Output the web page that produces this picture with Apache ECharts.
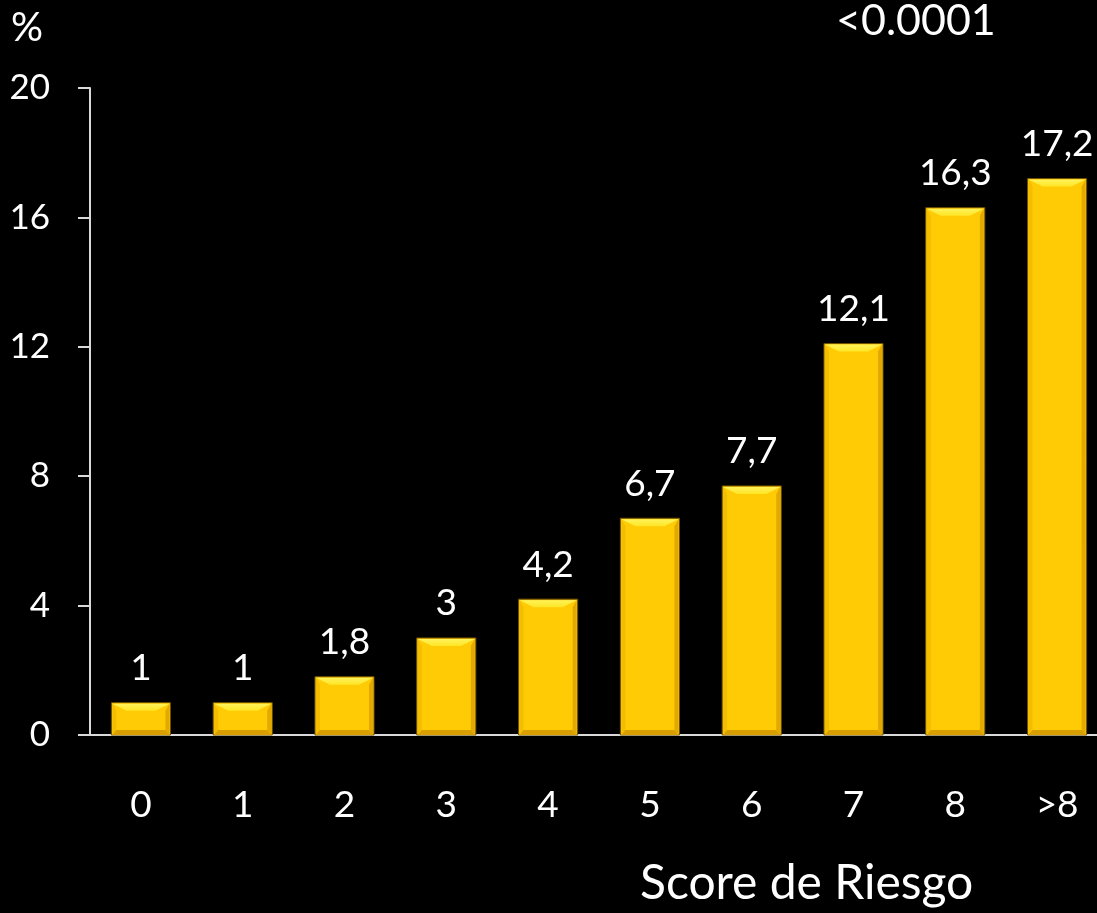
<!DOCTYPE html>
<html>
<head>
<meta charset="utf-8">
<script src="https://cdn.jsdelivr.net/npm/echarts@6/dist/echarts.min.js"></script>
<style>
  html, body { margin: 0; padding: 0; background: #000; }
  #chart { width: 1097px; height: 913px; }
</style>
</head>
<body>
<div id="chart"></div>
<script>
// Risk score categories and the percentage for each
const categories = ['0', '1', '2', '3', '4', '5', '6', '7', '8', '>8'];
const values = [1, 1, 1.8, 3, 4.2, 6.7, 7.7, 12.1, 16.3, 17.2];
const yTicks = [0, 4, 8, 12, 16, 20];

const FONT = 'Lato, "Open Sans", sans-serif';

const chart = echarts.init(document.getElementById('chart'), null, { renderer: 'canvas' });

function fmt(v) { return String(v).replace('.', ','); }

// Bevelled gold bar: face, darker sides/bottom, bright top strip, value label above
function renderBar(params, api) {
  const idx = api.value(0);
  const val = api.value(1);
  const top = api.coord([idx, val]);
  const base = api.coord([idx, 0]);
  const band = api.size([1, 0])[0];
  const w = band * 0.58;
  const x0 = top[0] - w / 2, x1 = top[0] + w / 2;
  const y0 = top[1], y1 = base[1];
  const b = Math.min(8, (y1 - y0) / 3);
  const s = Math.min(5, (y1 - y0) / 4);
  return {
    type: 'group',
    children: [
      { type: 'rect', shape: { x: x0, y: y0, width: w, height: y1 - y0 },
        style: { fill: '#ffcb05', stroke: '#6e5200', lineWidth: 1 } },
      // left side bevel
      { type: 'polygon', shape: { points: [[x0 + 1, y0 + 1], [x0 + s, y0 + b], [x0 + s, y1 - s], [x0 + 1, y1]] },
        style: { fill: '#f5bd00' } },
      // right side bevel
      { type: 'polygon', shape: { points: [[x1 - 1, y0 + 1], [x1 - s, y0 + b], [x1 - s, y1 - s], [x1 - 1, y1]] },
        style: { fill: '#e3a900' } },
      // bottom bevel
      { type: 'polygon', shape: { points: [[x0 + 1, y1], [x0 + s, y1 - s], [x1 - s, y1 - s], [x1 - 1, y1]] },
        style: { fill: '#d99e00' } },
      // top bevel
      { type: 'polygon', shape: { points: [[x0 + 1, y0 + 1], [x1 - 1, y0 + 1], [x1 - s * 3, y0 + b], [x0 + s * 3, y0 + b]] },
        style: { fill: new echarts.graphic.LinearGradient(0, 0, 0, 1, [
          { offset: 0, color: '#fff35a' }, { offset: 1, color: '#ffe526' }]) } },
      { type: 'text', x: top[0], y: y0 - 16,
        style: { text: fmt(val), fill: '#fff', font: '37px ' + FONT, align: 'center', verticalAlign: 'bottom' } }
    ]
  };
}

chart.setOption({
  backgroundColor: '#000',
  animation: false,
  // the category band runs slightly past the right edge of the canvas
  grid: { left: 90, width: 1018, top: 88, bottom: 178, containLabel: false, outerBoundsMode: 'none' },
  xAxis: {
    type: 'category',
    data: categories,
    axisLine: { lineStyle: { color: '#d9d9d9', width: 2 } },
    axisTick: { show: false },
    axisLabel: { color: '#fff', fontSize: 37, fontFamily: FONT, margin: 52 }
  },
  yAxis: {
    type: 'value',
    min: 0, max: 20, interval: 4,
    axisLine: { show: true, lineStyle: { color: '#d9d9d9', width: 2 } },
    axisTick: { show: true, length: 12, lineStyle: { color: '#d9d9d9', width: 2 } },
    splitLine: { show: false },
    axisLabel: { color: '#fff', fontSize: 35, fontFamily: FONT, margin: 40,
      formatter: v => yTicks.includes(v) ? String(v) : '' }
  },
  graphic: [
    { type: 'text', left: 11, top: 8, style: { text: '%', fill: '#fff', font: '40px ' + FONT } },
    { type: 'text', left: 836, top: 0, style: { text: '<0.0001', fill: '#fff', font: '43px ' + FONT } },
    { type: 'text', left: 640, top: 860, style: { text: 'Score de Riesgo', fill: '#fff', font: '48px ' + FONT } }
  ],
  series: [{
    type: 'custom',
    renderItem: renderBar,
    data: values.map((v, i) => [i, v]),
    encode: { x: 0, y: 1 },
    clip: false
  }]
});
</script>
</body>
</html>
